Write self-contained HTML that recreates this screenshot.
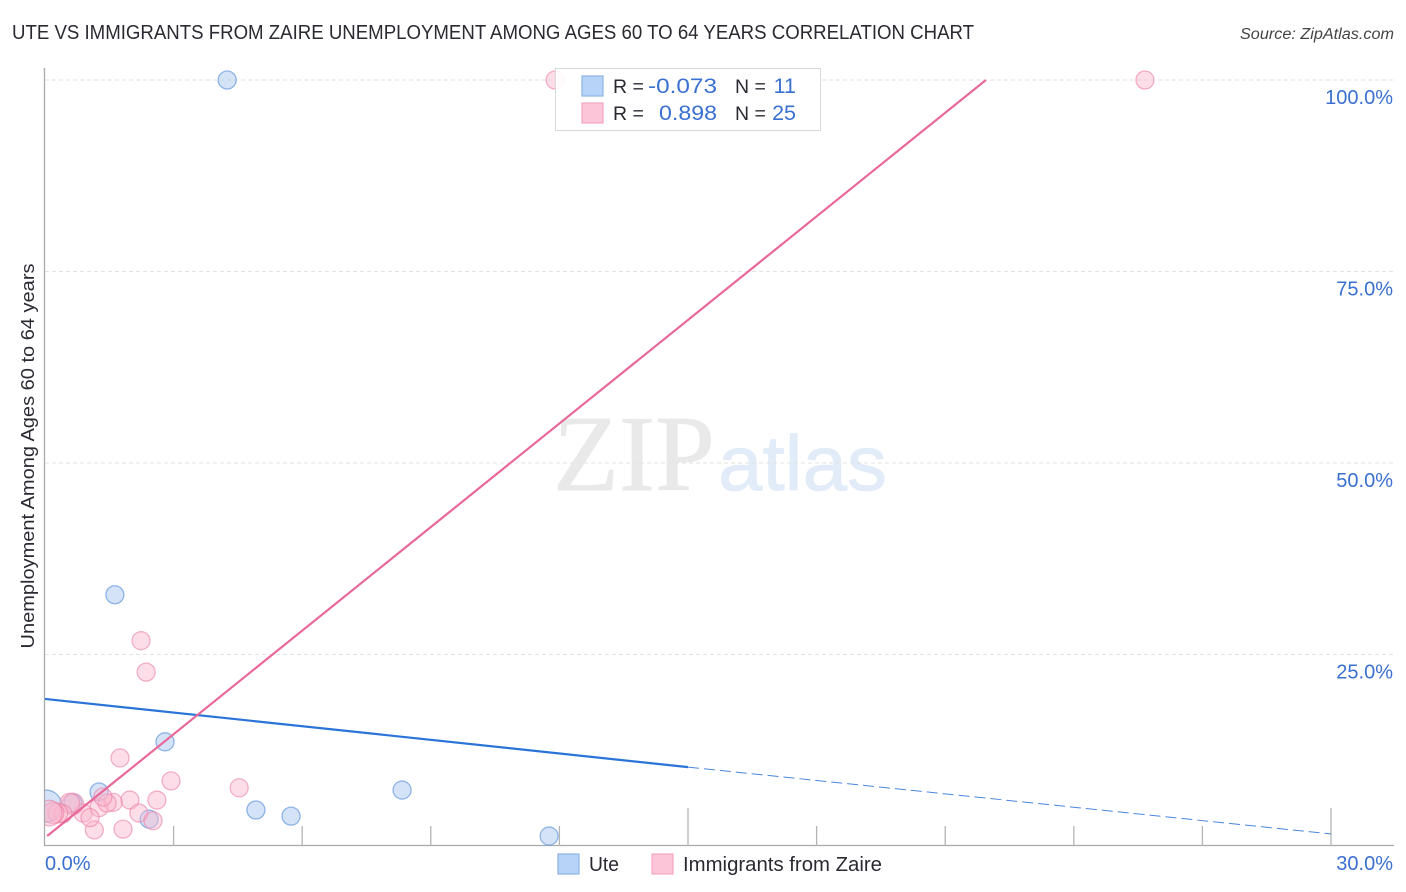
<!DOCTYPE html>
<html lang="en">
<head>
<meta charset="utf-8">
<title>Ute vs Immigrants from Zaire Unemployment Correlation Chart</title>
<style>
html,body{margin:0;padding:0;background:#fff;width:1406px;height:892px;overflow:hidden}
svg{display:block;font-family:"Liberation Sans",sans-serif}
</style>
</head>
<body>
<svg id="chart" width="1406" height="892" viewBox="0 0 1406 892" xmlns="http://www.w3.org/2000/svg">
  <defs>
    <clipPath id="plot-clip"><rect x="45" y="60" width="1360" height="786"/></clipPath>
  </defs>
  <text x="12" y="39" font-size="20" fill="#2a2a33" textLength="962" lengthAdjust="spacingAndGlyphs">UTE VS IMMIGRANTS FROM ZAIRE UNEMPLOYMENT AMONG AGES 60 TO 64 YEARS CORRELATION CHART</text>
  <text x="1394" y="39" font-size="15.5" font-style="italic" fill="#444" text-anchor="end" textLength="154" lengthAdjust="spacingAndGlyphs">Source: ZipAtlas.com</text>
  <g>
    <text x="553" y="490" font-family="'Liberation Serif',serif" font-size="108" fill="#e9e9e9" stroke="#e9e9e9" stroke-width="0.8" textLength="162" lengthAdjust="spacingAndGlyphs">ZIP</text>
    <text x="718" y="490" font-size="78" fill="#e2ebf8" stroke="#e2ebf8" stroke-width="0.8" textLength="169" lengthAdjust="spacingAndGlyphs">atlas</text>
  </g>
  <g id="grid"></g>
  <g id="axes"></g>
  <g id="blue-points" clip-path="url(#plot-clip)"></g>
  <g id="pink-points" clip-path="url(#plot-clip)"></g>
  <g id="trends"></g>
  <g id="labels"></g>
  <text x="34" y="456" font-size="18.5" fill="#2a2a33" text-anchor="middle" transform="rotate(-90 34 456)" textLength="385" lengthAdjust="spacingAndGlyphs">Unemployment Among Ages 60 to 64 years</text>

  <g>
    <rect x="555.5" y="68.5" width="265" height="62" fill="#fff" fill-opacity="0.88" stroke="#d8d8d8"/>
    <rect x="582" y="76" width="21" height="20" fill="#b8d3f8" stroke="#8cb4e6" stroke-width="1.2"/>
    <rect x="582" y="103" width="21" height="20" fill="#fcc5d8" stroke="#f3a6c0" stroke-width="1.2"/>
    <text x="613" y="93" font-size="19.5" fill="#2a2a33">R =</text>
    <text x="717" y="93" font-size="21.5" fill="#3a70d0" text-anchor="end" textLength="69" lengthAdjust="spacingAndGlyphs">-0.073</text>
    <text x="735" y="93" font-size="19.5" fill="#2a2a33">N =</text>
    <text x="796" y="93" font-size="21.5" fill="#3a70d0" text-anchor="end">11</text>
    <text x="613" y="120" font-size="19.5" fill="#2a2a33">R =</text>
    <text x="717" y="120" font-size="21.5" fill="#3a70d0" text-anchor="end" textLength="58" lengthAdjust="spacingAndGlyphs">0.898</text>
    <text x="735" y="120" font-size="19.5" fill="#2a2a33">N =</text>
    <text x="796" y="120" font-size="21.5" fill="#3a70d0" text-anchor="end">25</text>
  </g>

  <g>
    <g>
      <rect x="558" y="854" width="21" height="20" fill="#b8d3f8" stroke="#8cb4e6" stroke-width="1.2"/>
      <text x="589" y="871" font-size="20" fill="#2a2a33" textLength="30" lengthAdjust="spacingAndGlyphs">Ute</text>
    </g>
    <g>
      <rect x="652" y="854" width="21" height="20" fill="#fcc5d8" stroke="#f3a6c0" stroke-width="1.2"/>
      <text x="683" y="871" font-size="20" fill="#2a2a33" textLength="199" lengthAdjust="spacingAndGlyphs">Immigrants from Zaire</text>
    </g>
  </g>
</svg>
<script>
// Data (percent values)
const xMajorTicks = [15, 30];
const xMinorTicks = [3, 6, 9, 12, 18, 21, 24, 27];
const yGridValues = [25, 50, 75, 100];
const yTickLabels = ["25.0%", "50.0%", "75.0%", "100.0%"];
const xEndValues = [0, 30];
const xEndLabels = ["0.0%", "30.0%"];

const uteX = [4.25, 1.63, 2.80, 1.26, 2.43, 4.92, 5.74, 8.33, 11.76, 0.65, 0.02];
const uteY = [100, 32.8, 13.6, 7.05, 3.5, 4.7, 3.9, 7.3, 1.3, 5.6, 5.2];
const uteWeight = [1, 1, 1, 1, 1, 1, 1, 1, 1, 1, 3.2];

const zaireX = [11.9, 25.66, 2.24, 2.36, 1.75, 2.94, 4.53, 2.61, 1.98, 2.19, 2.52, 1.82, 1.15, 1.26, 1.59, 1.45, 1.35, 0.89, 1.05, 0.65, 0.58, 0.42, 0.30, 0.19, 0.10];
const zaireY = [100, 100, 26.8, 22.7, 11.5, 8.5, 7.6, 6.0, 6.0, 4.3, 3.3, 2.2, 2.1, 5.0, 5.7, 5.6, 6.4, 4.3, 3.7, 5.5, 5.6, 4.2, 4.3, 4.3, 4.3];
const zaireWeight = [1, 1, 1, 1, 1, 1, 1, 1, 1, 1, 1, 1, 1, 1, 1, 1, 1, 1, 1, 1.4, 1.2, 1, 1.2, 1.4, 2];

const uteTrendX = [0, 15, 30];
const uteTrendY = [19.2, 10.3, 1.57];
const zaireTrendX = [0.05, 21.95];
const zaireTrendY = [1.3, 100];

// Axis functions
const NS = "http://www.w3.org/2000/svg";
function sx(v) { return 45 + v * (1331 - 45) / 30; }
function sy(v) { return 846 - v * (846 - 80) / 100; }
function make(tag, attrs, parent) {
  const el = document.createElementNS(NS, tag);
  for (const k in attrs) el.setAttribute(k, attrs[k]);
  parent.appendChild(el);
  return el;
}

const grid = document.getElementById("grid");
const axes = document.getElementById("axes");
const labels = document.getElementById("labels");
const pinkG = document.getElementById("pink-points");
const blueG = document.getElementById("blue-points");
const trends = document.getElementById("trends");














yGridValues.forEach(function (v, i) {
  const line = make("line", { x1: 45, x2: 1393, y1: sy(v), y2: sy(v), stroke: "#e2e2e2", "stroke-width": 1, "stroke-dasharray": "4 3" }, grid);
  
  
  const t = make("text", { x: 1393, y: sy(v) + 24, "font-size": 20, fill: "#3a70d0", "text-anchor": "end" }, labels);
  t.textContent = yTickLabels[i];
  
  
});

const yAxisLine = make("line", { x1: 44.5, x2: 44.5, y1: 68, y2: 846, stroke: "#aaa", "stroke-width": 1.3 }, axes);


const xAxisLine = make("line", { x1: 44, x2: 1394, y1: 845.5, y2: 845.5, stroke: "#aaa", "stroke-width": 1.3 }, axes);



xMinorTicks.forEach(function (v) {
  const tick = make("line", { x1: sx(v), x2: sx(v), y1: 826, y2: 846, stroke: "#b4b4b4", "stroke-width": 1.3 }, axes);
  
  
});
xMajorTicks.forEach(function (v) {
  const tick = make("line", { x1: sx(v), x2: sx(v), y1: 808, y2: 846, stroke: "#b4b4b4", "stroke-width": 1.3 }, axes);
  
  
});

xEndValues.forEach(function (v, i) {
  const t = make("text", { x: i === 0 ? sx(v) : 1393, y: 870, "font-size": 20, fill: "#3a70d0", "text-anchor": i === 0 ? "start" : "end" }, labels);
  t.textContent = xEndLabels[i];
  
  
});

uteX.forEach(function (v, i) {
  const c = make("circle", { cx: sx(v), cy: sy(uteY[i]), r: 9 * Math.sqrt(uteWeight[i]), fill: "#a9c8f2", "fill-opacity": 0.5, stroke: "#6f9fe0", "stroke-opacity": 0.75, "stroke-width": 1.3 }, blueG);
  
  
});
zaireX.forEach(function (v, i) {
  const c = make("circle", { cx: sx(v), cy: sy(zaireY[i]), r: 9 * Math.sqrt(zaireWeight[i]), fill: "#fbb6cd", "fill-opacity": 0.45, stroke: "#ea85a8", "stroke-opacity": 0.62, "stroke-width": 1.3 }, pinkG);
  
  
});

const uteSolid = make("line", { x1: sx(uteTrendX[0]), y1: sy(uteTrendY[0]), x2: sx(uteTrendX[1]), y2: sy(uteTrendY[1]), stroke: "#2a74d8", "stroke-width": 2.2 }, trends);


const uteDash = make("line", { x1: sx(uteTrendX[1]), y1: sy(uteTrendY[1]), x2: sx(uteTrendX[2]), y2: sy(uteTrendY[2]), stroke: "#4a86da", "stroke-width": 1, "stroke-dasharray": "11 5" }, trends);


const zaireLine = make("line", { x1: sx(zaireTrendX[0]), y1: sy(zaireTrendY[0]), x2: sx(zaireTrendX[1]), y2: sy(zaireTrendY[1]), stroke: "#e8689a", "stroke-width": 2.2 }, trends);


</script>
</body>
</html>
